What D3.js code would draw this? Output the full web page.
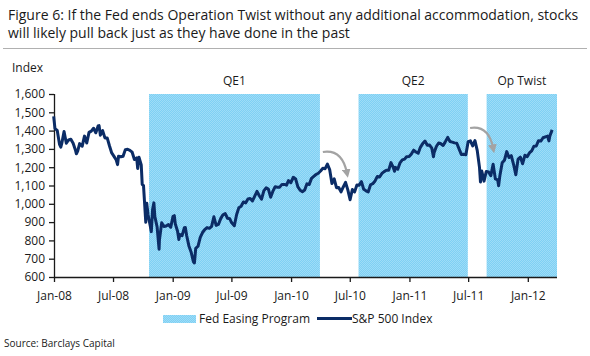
<!DOCTYPE html>
<html><head><meta charset="utf-8">
<script src="https://cdn.jsdelivr.net/npm/d3@7"></script>
<style>
html,body{margin:0;padding:0;background:#fff;}
svg{display:block;font-family:"Open Sans",sans-serif;}
</style></head>
<body><svg id="c" width="590" height="356"></svg>
<script>
// ---- data ----
const titleLines = [
  "Figure 6: If the Fed ends Operation Twist without any additional accommodation, stocks",
  "will likely pull back just as they have done in the past"
];
const yTicks = [600,700,800,900,1000,1100,1200,1300,1400,1500,1600];
const xTickDates = ["2008-01-01","2008-07-01","2009-01-01","2009-07-01","2010-01-01","2010-07-01","2011-01-01","2011-07-01","2012-01-01"];
const xTickLabels = ["Jan-08","Jul-08","Jan-09","Jul-09","Jan-10","Jul-10","Jan-11","Jul-11","Jan-12"];
const programNames = ["QE1","QE2","Op Twist"];
const programStart = ["2008-10-20","2010-07-28","2011-08-27"];
const programEnd   = ["2010-03-31","2011-06-30","2012-03-31"];
const spxDates = ["2007-12-31","2008-01-04","2008-01-11","2008-01-18","2008-01-22","2008-01-25","2008-02-01","2008-02-08","2008-02-15","2008-02-22","2008-02-29","2008-03-07","2008-03-10","2008-03-14","2008-03-20","2008-03-28","2008-04-04","2008-04-11","2008-04-18","2008-04-25","2008-05-02","2008-05-09","2008-05-16","2008-05-19","2008-05-23","2008-05-30","2008-06-06","2008-06-13","2008-06-20","2008-06-27","2008-07-03","2008-07-11","2008-07-15","2008-07-18","2008-07-25","2008-08-01","2008-08-08","2008-08-15","2008-08-22","2008-08-29","2008-09-05","2008-09-12","2008-09-15","2008-09-19","2008-09-26","2008-09-29","2008-10-03","2008-10-10","2008-10-13","2008-10-17","2008-10-24","2008-10-27","2008-10-31","2008-11-04","2008-11-07","2008-11-14","2008-11-20","2008-11-21","2008-11-28","2008-12-05","2008-12-12","2008-12-19","2008-12-26","2009-01-02","2009-01-06","2009-01-09","2009-01-16","2009-01-20","2009-01-23","2009-01-30","2009-02-06","2009-02-09","2009-02-13","2009-02-20","2009-02-27","2009-03-06","2009-03-09","2009-03-13","2009-03-20","2009-03-27","2009-04-03","2009-04-09","2009-04-17","2009-04-24","2009-05-01","2009-05-08","2009-05-15","2009-05-22","2009-05-29","2009-06-05","2009-06-12","2009-06-19","2009-06-26","2009-07-02","2009-07-10","2009-07-17","2009-07-24","2009-07-31","2009-08-07","2009-08-14","2009-08-21","2009-08-28","2009-09-04","2009-09-11","2009-09-18","2009-09-25","2009-10-02","2009-10-09","2009-10-16","2009-10-23","2009-10-30","2009-11-06","2009-11-13","2009-11-20","2009-11-27","2009-12-04","2009-12-11","2009-12-18","2009-12-24","2009-12-31","2010-01-08","2010-01-15","2010-01-22","2010-01-29","2010-02-05","2010-02-12","2010-02-19","2010-02-26","2010-03-05","2010-03-12","2010-03-19","2010-03-26","2010-04-02","2010-04-09","2010-04-16","2010-04-23","2010-04-30","2010-05-07","2010-05-14","2010-05-21","2010-05-28","2010-06-04","2010-06-11","2010-06-18","2010-06-25","2010-07-02","2010-07-09","2010-07-16","2010-07-23","2010-07-30","2010-08-06","2010-08-13","2010-08-20","2010-08-27","2010-09-03","2010-09-10","2010-09-17","2010-09-24","2010-10-01","2010-10-08","2010-10-15","2010-10-22","2010-10-29","2010-11-05","2010-11-12","2010-11-16","2010-11-19","2010-11-26","2010-12-03","2010-12-10","2010-12-17","2010-12-23","2010-12-31","2011-01-07","2011-01-14","2011-01-21","2011-01-28","2011-02-04","2011-02-11","2011-02-18","2011-02-25","2011-03-04","2011-03-11","2011-03-16","2011-03-18","2011-03-25","2011-04-01","2011-04-08","2011-04-15","2011-04-21","2011-04-29","2011-05-06","2011-05-13","2011-05-20","2011-05-27","2011-06-03","2011-06-10","2011-06-17","2011-06-24","2011-07-01","2011-07-08","2011-07-15","2011-07-22","2011-07-29","2011-08-05","2011-08-08","2011-08-12","2011-08-19","2011-08-26","2011-09-02","2011-09-09","2011-09-16","2011-09-23","2011-09-30","2011-10-03","2011-10-07","2011-10-14","2011-10-21","2011-10-28","2011-11-04","2011-11-11","2011-11-18","2011-11-25","2011-12-02","2011-12-09","2011-12-16","2011-12-23","2011-12-30","2012-01-06","2012-01-13","2012-01-20","2012-01-27","2012-02-03","2012-02-10","2012-02-17","2012-02-24","2012-03-02","2012-03-06","2012-03-09","2012-03-16"];
const spxValues = [1478,1411,1401,1325,1310,1330,1395,1331,1349,1353,1331,1294,1273,1288,1329,1315,1370,1332,1390,1397,1413,1388,1425,1427,1375,1400,1360,1360,1317,1278,1262,1239,1214,1260,1257,1260,1296,1298,1292,1282,1242,1251,1193,1255,1213,1106,1099,899,1003,940,877,848,968,1005,930,873,752,800,896,876,879,887,872,931,935,890,850,805,832,826,869,870,827,770,735,683,677,756,768,816,843,857,870,866,877,929,882,887,919,940,946,921,918,896,880,940,979,987,1010,1005,1026,1029,1016,1042,1068,1044,1025,1071,1087,1080,1036,1069,1093,1091,1091,1106,1106,1102,1127,1115,1145,1136,1092,1074,1066,1075,1109,1105,1139,1150,1160,1167,1179,1194,1192,1217,1187,1111,1136,1088,1089,1065,1092,1117,1076,1022,1078,1065,1103,1102,1121,1079,1071,1065,1104,1110,1125,1149,1146,1166,1176,1183,1183,1225,1199,1178,1199,1189,1224,1240,1244,1257,1258,1272,1293,1283,1276,1310,1329,1343,1320,1321,1304,1257,1279,1313,1332,1328,1319,1337,1363,1340,1337,1333,1331,1300,1270,1271,1268,1339,1344,1316,1345,1292,1199,1119,1179,1124,1177,1174,1154,1216,1136,1131,1099,1155,1224,1238,1285,1253,1263,1216,1159,1244,1255,1219,1265,1258,1278,1289,1315,1316,1345,1343,1361,1366,1370,1344,1371,1404];
const legendLabels = ["Fed Easing Program","S&P 500 Index"];
const sourceText = "Source: Barclays Capital";
const arrowFromTo = [["2010-04-09",1283,"2010-06-22",1170],["2011-07-07",1414,"2011-09-16",1305]];

// ---- drawing ----
const parse = d3.timeParse("%Y-%m-%d");
const svg = d3.select("#c");
const L = 54, R = 557, T = 94, B = 277;
const x = d3.scaleTime().domain([parse("2008-01-01"), parse("2012-03-31")]).range([L, R]);
const y = d3.scaleLinear().domain([600,1600]).range([B, T]);
const ink = "#1a1a1a";

// title
svg.selectAll("text.title").data(titleLines).join("text")
  .attr("class","title").attr("x",8).attr("y",(d,i)=>20+i*18)
  .attr("font-size",14).attr("fill",ink).text(d=>d);
svg.append("line").attr("x1",3).attr("x2",587).attr("y1",48.5).attr("y2",48.5)
  .attr("stroke","#b0b0b0").attr("stroke-width",1);

// dotted pattern for shading
const defs = svg.append("defs");
const pat = defs.append("pattern").attr("id","dots").attr("width",2).attr("height",2).attr("patternUnits","userSpaceOnUse");
pat.append("rect").attr("width",2).attr("height",2).attr("fill","#7ed0f4");
pat.append("rect").attr("width",1).attr("height",1).attr("fill","#9edcf7");
pat.append("rect").attr("x",1).attr("y",1).attr("width",1).attr("height",1).attr("fill","#9edcf7");

const programs = programNames.map((n,i)=>({name:n, s:parse(programStart[i]), e:parse(programEnd[i])}));
svg.selectAll("rect.prog").data(programs).join("rect").attr("class","prog")
  .attr("x",d=>x(d.s)).attr("width",d=>x(d.e)-x(d.s))
  .attr("y",y(1600)).attr("height",y(600)-y(1600)).attr("fill","url(#dots)");
svg.selectAll("text.prog").data(programs).join("text").attr("class","prog")
  .attr("x",d=>(x(d.s)+x(d.e))/2).attr("y",85).attr("text-anchor","middle")
  .attr("font-size",12).attr("fill",ink).text(d=>d.name);

// axes
const yAxis = d3.axisLeft(y).tickValues(yTicks).tickSize(5).tickPadding(4).tickFormat(d3.format(","));
const gy = svg.append("g").attr("transform",`translate(${L},0)`).call(yAxis);
const xAxis = d3.axisBottom(x).tickValues(xTickDates.map(parse)).tickSize(5).tickPadding(9)
  .tickFormat((d,i)=>xTickLabels[i]);
const gx = svg.append("g").attr("transform",`translate(0,${B})`).call(xAxis);
[gx,gy].forEach(g=>{
  g.select(".domain").attr("stroke",ink).attr("stroke-width",1.3);
  g.selectAll(".tick line").attr("stroke",ink).attr("stroke-width",1.3);
  g.selectAll("text").attr("font-size",12).attr("fill",ink).attr("font-family","'Open Sans',sans-serif");
});
gx.select(".domain").attr("d",`M${L},0.5H${R}`);
gy.select(".domain").attr("d",`M0.5,${B}V${T}`);
svg.append("text").attr("x",12).attr("y",72).attr("font-size",12).attr("fill",ink).text("Index");

// arrows
defs.append("marker").attr("id","ah").attr("viewBox","0 0 10 10").attr("refX",4).attr("refY",5)
  .attr("markerWidth",4).attr("markerHeight",4).attr("orient","auto")
  .append("path").attr("d","M0,0L10,5L0,10z").attr("fill","#a3a3a3");
arrowFromTo.forEach(a=>{
  const x0=x(parse(a[0])), y0=y(a[1]), x1=x(parse(a[2])), y1=y(a[3]);
  const cx = x0 + (x1-x0)*0.8, cy = y0 - 3;
  svg.append("path").attr("d",`M${x0},${y0}Q${cx},${cy} ${x1},${y1}`)
    .attr("fill","none").attr("stroke","#a3a3a3").attr("stroke-width",2.2).attr("marker-end","url(#ah)");
});

// line
const pts = spxDates.map((d,i)=>({d:parse(d), v:spxValues[i]}));
svg.append("path").datum(pts)
  .attr("d",d3.line().x(p=>x(p.d)).y(p=>y(p.v)))
  .attr("fill","none").attr("stroke","#0b2c66").attr("stroke-width",3).attr("stroke-linejoin","round");

// legend
svg.append("rect").attr("x",163).attr("y",315).attr("width",33).attr("height",8).attr("fill","url(#dots)");
svg.append("text").attr("x",199).attr("y",323).attr("font-size",12).attr("fill",ink).text(legendLabels[0]);
svg.append("line").attr("x1",317).attr("x2",352).attr("y1",318.5).attr("y2",318.5).attr("stroke","#0b2c66").attr("stroke-width",3);
svg.append("text").attr("x",352).attr("y",323).attr("font-size",12).attr("fill",ink).text(legendLabels[1]);

svg.append("text").attr("x",4).attr("y",347).attr("font-size",10).attr("fill",ink).text(sourceText);
</script></body></html>
